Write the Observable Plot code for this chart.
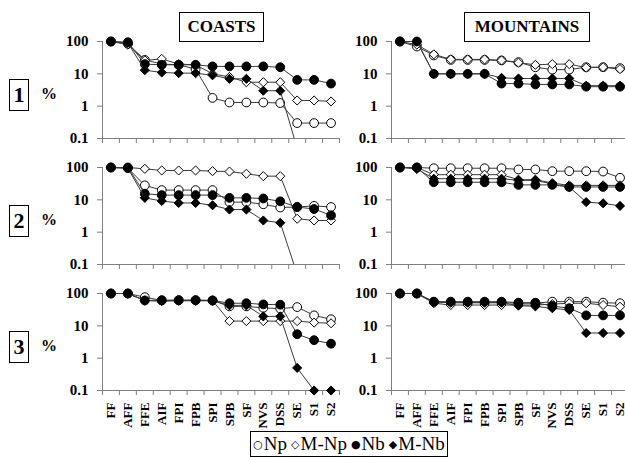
<!DOCTYPE html>
<html><head><meta charset="utf-8">
<script src="https://cdn.jsdelivr.net/npm/d3@7"></script>
<script src="https://cdn.jsdelivr.net/npm/@observablehq/plot@0.6"></script>
<style>
html,body{margin:0;padding:0;background:#fff;overflow:hidden;}
#root{position:relative;width:625px;height:457px;overflow:hidden;font-family:"Liberation Serif","Times New Roman",serif;background:#fff;}
.panel{position:absolute;}
.tbox{position:absolute;border:1.5px solid #000;box-sizing:border-box;font-family:"Liberation Serif","Times New Roman",serif;font-weight:bold;display:flex;align-items:center;justify-content:center;background:#fff;color:#000;}
.pct{position:absolute;font-family:"Liberation Serif","Times New Roman",serif;font-weight:bold;font-size:16px;color:#000;}
#legend{position:absolute;left:250px;top:431px;width:198px;height:26px;border:1px solid #000;box-sizing:border-box;font-family:"Liberation Serif","Times New Roman",serif;font-size:19px;display:flex;align-items:center;justify-content:center;white-space:nowrap;background:#fff;}
#legend .sym{font-family:"DejaVu Sans",sans-serif;font-size:11px;margin-right:1px;position:relative;top:-2px;}
#legend .item{margin:0 2px;}
</style>
</head><body>
<div id="root"></div>
<script>
const categories = ["FF","AFF","FFE","AIF","FPI","FPB","SPI","SPB","SF","NVS","DSS","SE","S1","S2"];
const seriesNames = ["Np","M-Np","Nb","M-Nb"];
const regionNames = ["COASTS","MOUNTAINS"];
const rowNames = ["1","2","3"];
const yTicks = [0.1, 1, 10, 100];
const yUnit = "%";

// Coasts, row 1
const coasts1Np  = [100, 85, 27, 20, 19, 14, 1.8, 1.3, 1.3, 1.3, 1.25, 0.3, 0.3, 0.3];
const coasts1MNp = [100, 80, 26, 29, 20, 19, 10, 8, 5.5, 5.5, 5.5, 1.5, 1.5, 1.4];
const coasts1Nb  = [100, 95, 20, 19, 19, 19, 17, 17, 17, 17, 16, 6.5, 6.5, 5];
const coasts1MNb = [100, 90, 13, 11, 10.5, 10.5, 9, 7, 7, 3, 3, 0.05, null, null];
// Coasts, row 2
const coasts2Np  = [100, 95, 28, 20, 20, 20, 20, 8.5, 8.5, 7.3, 5.8, 6, 6.5, 6];
const coasts2MNp = [100, 100, 91, 81, 81, 81, 77, 75, 64, 54, 54, 2.6, 2.3, 2.3];
const coasts2Nb  = [100, 100, 15.5, 14, 14, 14, 14, 11.5, 11.5, 11, 9, 6, 5.2, 3.3];
const coasts2MNb = [100, 95, 11.5, 9.2, 8, 8, 6.8, 5, 5, 2.3, 1.95, 0.05, null, null];
// Coasts, row 3
const coasts3Np  = [100, 100, 77, 61, 62, 62, 61, 40, 40, 36, 34, 38, 21, 16];
const coasts3MNp = [100, 100, 61, 58, 60, 60, 60, 14, 14, 14, 14, 14, 12.6, 12];
const coasts3Nb  = [100, 100, 61, 62, 62, 62, 61, 50, 50, 46, 45, 5.5, 3.6, 2.8];
const coasts3MNb = [100, 100, 60, 60, 60, 60, 60, 43, 43, 19.6, 19.6, 0.5, 0.1, 0.1];
// Mountains, row 1
const mount1Np  = [100, 70, 37, 27, 27, 27, 26, 23, 16, 13.5, 13.5, 16, 16, 15];
const mount1MNp = [100, 80, 40, 28, 28, 28, 26, 22, 19, 20, 20, 15.5, 16, 14];
const mount1Nb  = [100, 100, 10, 10, 10, 10, 5, 5, 4.7, 4.7, 4.7, 4, 4, 4];
const mount1MNb = [100, 100, 10, 10, 10, 10, 7.5, 7.2, 7.2, 7.2, 7.2, 4.3, 4.3, 4.3];
// Mountains, row 2
const mount2Np  = [100, 100, 95, 95, 95, 95, 95, 87, 87, 77, 77, 77, 75, 48];
const mount2MNp = [100, 100, 60, 60, 60, 60, 60, 42, 42, 33, 28, 28, 28, 28];
const mount2Nb  = [100, 100, 35, 35, 35, 35, 35, 29, 29, 29, 25, 25, 25, 25];
const mount2MNb = [100, 90, 45, 45, 45, 45, 45, 40, 40, 31, 25, 8.5, 7.8, 6.5];
// Mountains, row 3
const mount3Np  = [100, 100, 55, 52, 52, 52, 52, 50, 50, 56, 56, 56, 52, 50];
const mount3MNp = [100, 100, 50, 44, 44, 44, 44, 44, 44, 47, 50, 50, 44, 39];
const mount3Nb  = [100, 100, 56, 56, 56, 56, 56, 52, 52, 41, 35, 21, 21, 21];
const mount3MNb = [100, 100, 54, 52, 52, 52, 52, 42, 40, 35, 31, 6, 6, 6];

const panelValues = [
  [[coasts1Np, coasts1MNp, coasts1Nb, coasts1MNb], [mount1Np, mount1MNp, mount1Nb, mount1MNb]],
  [[coasts2Np, coasts2MNp, coasts2Nb, coasts2MNb], [mount2Np, mount2MNp, mount2Nb, mount2MNb]],
  [[coasts3Np, coasts3MNp, coasts3Nb, coasts3MNb], [mount3Np, mount3MNp, mount3Nb, mount3MNb]]
];

const seriesStyle = {
  "Np":   {symbol: "circle",   fill: "white", r: 4.4, legend: "\u25CB"},
  "M-Np": {symbol: "diamond2", fill: "white", r: 4.1, legend: "\u25C7"},
  "Nb":   {symbol: "circle",   fill: "black", r: 4.4, legend: "\u25CF"},
  "M-Nb": {symbol: "diamond2", fill: "black", r: 4.1, legend: "\u25C6"}
};

const root = document.getElementById("root");
const rowTop = [41, 167, 293];
const colLeft = [0, 340];
const colMarginLeft = [102, 51];
const plotW = 237, plotH = 97, mTop = 10;
const xDomain = [0, categories.length];
const yDomain = [yTicks[0], yTicks[yTicks.length - 1]];

function makePanel(values, bottom) {
  const data = [];
  seriesNames.forEach((s, k) => values[k].forEach((v, i) => data.push({series: s, x: i + 0.5, v})));
  const marks = [
    Plot.ruleX([xDomain[0]], {stroke: "#7f7f7f"}),
    Plot.ruleY([yDomain[0]], {stroke: "#7f7f7f"}),
    Plot.axisY({ticks: yTicks, tickSize: 5, tickPadding: 9, stroke: "#7f7f7f", fill: "black", label: null,
      tickFormat: d => String(d), fontSize: 15, fontWeight: "bold"}),
    Plot.axisX({ticks: d3.range(0, categories.length + 1), tickSize: 5, stroke: "#7f7f7f", label: null, tickFormat: () => ""})
  ];
  if (bottom) {
    marks.push(Plot.axisX({ticks: categories.map((_, i) => i + 0.5), tickSize: 0, tickPadding: 12, label: null,
      tickRotate: -90, tickFormat: v => categories[Math.floor(v)], fontSize: 13, fontWeight: "bold", fill: "black"}));
  }
  for (const s of seriesNames) {
    const st = seriesStyle[s];
    const sd = data.filter(d => d.series === s);
    marks.push(Plot.line(sd, {x: "x", y: "v", stroke: "#3a3a3a", strokeWidth: 1, clip: true}));
    marks.push(Plot.dot(sd.filter(d => d.v != null && d.v >= yDomain[0]), {x: "x", y: "v", r: st.r, symbol: st.symbol,
      fill: st.fill, stroke: "black", strokeWidth: 1}));
  }
  return marks;
}

for (let row = 0; row < 3; row++) {
  for (let col = 0; col < 2; col++) {
    const bottom = row === 2;
    const mBottom = bottom ? 50 : 10;
    const svg = Plot.plot({
      width: colMarginLeft[col] + plotW + 3,
      height: mTop + plotH + mBottom,
      marginLeft: colMarginLeft[col], marginRight: 3, marginTop: mTop, marginBottom: mBottom,
      x: {type: "linear", domain: xDomain, axis: null},
      y: {type: "log", domain: yDomain, axis: null},
      style: {fontFamily: "'Liberation Serif', 'Times New Roman', serif", fontSize: "15px", fontWeight: "bold",
        background: "transparent", overflow: "visible", color: "black"},
      marks: makePanel(panelValues[row][col], bottom)
    });
    svg.classList.add("panel");
    svg.style.left = colLeft[col] + "px";
    svg.style.top = (rowTop[row] - mTop) + "px";
    svg.style.maxWidth = "none";
    root.appendChild(svg);
  }
}

// Region titles
const titleGeom = [{left: 179, width: 85}, {left: 464, width: 126}];
regionNames.forEach((name, i) => {
  const d = document.createElement("div");
  d.className = "tbox";
  d.textContent = name;
  Object.assign(d.style, {left: titleGeom[i].left + "px", top: "12px", width: titleGeom[i].width + "px", height: "30px", fontSize: "17px"});
  root.appendChild(d);
});

// Row labels and %
rowNames.forEach((name, r) => {
  const cy = rowTop[r] + plotH / 2 + 5;
  const b = document.createElement("div");
  b.className = "tbox";
  b.textContent = name;
  Object.assign(b.style, {left: "9px", top: (cy - 16) + "px", width: "20px", height: "32px", fontSize: "22px"});
  root.appendChild(b);
  const p = document.createElement("div");
  p.className = "pct";
  p.textContent = yUnit;
  Object.assign(p.style, {left: "41px", top: (cy - 10) + "px"});
  root.appendChild(p);
});

// Legend
const leg = document.createElement("div");
leg.id = "legend";
seriesNames.forEach((s, i) => {
  const it = document.createElement("span");
  it.className = "item";
  const sy = document.createElement("span");
  sy.className = "sym";
  sy.textContent = seriesStyle[s].legend;
  it.appendChild(sy);
  it.appendChild(document.createTextNode(s));
  leg.appendChild(it);
});
root.appendChild(leg);
</script>
</body></html>
